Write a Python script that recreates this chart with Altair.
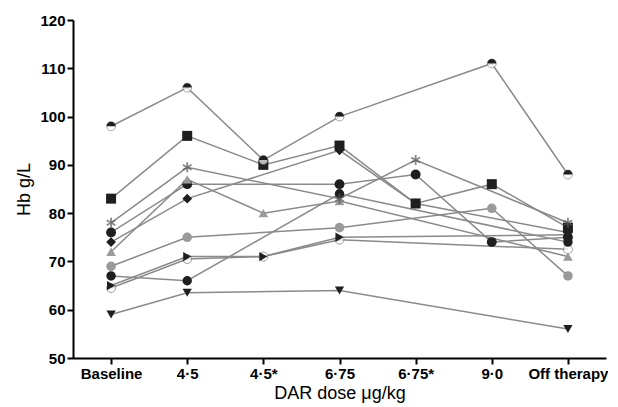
import altair as alt
import pandas as pd

doses = ["Baseline", "4·5", "4·5*", "6·75", "6·75*", "9·0", "Off therapy"]

# Hb values (g/L) per patient; None = not measured at that dose
s_halfcircle = [98, 106, 91, 100, None, 111, 88]
s_square = [83, 96, 90, 94, 82, 86, 77]
s_star = [78, 89.5, None, 83, 91, None, 78]
s_circle_a = [76, 86, None, 86, 88, 74, 75]
s_diamond = [74, 83, None, 93, 82, None, 76]
s_tri_up = [72, 87, 80, 82.5, None, None, 71]
s_grey_circle = [69, 75, None, 77, None, 81, 67]
s_circle_b = [67, 66, None, 84, None, None, 74]
s_tri_right = [65, 71, 71, 75, None, None, 75.5]
s_open_circle = [64.5, 70.5, 71, 74.5, None, None, 72.5]
s_tri_down = [59, 63.5, None, 64, None, None, 56]

series = {
    "open_circle": s_open_circle,
    "halfcircle": s_halfcircle,
    "square": s_square,
    "star": s_star,
    "circle_a": s_circle_a,
    "diamond": s_diamond,
    "tri_up": s_tri_up,
    "grey_circle": s_grey_circle,
    "circle_b": s_circle_b,
    "tri_right": s_tri_right,
    "tri_down": s_tri_down,
}

rows = []
for name, vals in series.items():
    for i, (d, v) in enumerate(zip(doses, vals)):
        if v is not None:
            rows.append({"series": name, "dose": d, "idx": i, "hb": v})
df = pd.DataFrame(rows)

FONT = "Liberation Sans"
DARK = "#1f1f1f"
GREY = "#9a9a9a"

x = alt.X(
    "dose:N",
    sort=doses,
    scale=alt.Scale(type="point", padding=0.5),
    axis=alt.Axis(labelAngle=0, title="DAR dose μg/kg", titlePadding=3),
)
y = alt.Y(
    "hb:Q",
    scale=alt.Scale(domain=[50, 120], nice=False, zero=False),
    axis=alt.Axis(values=list(range(50, 121, 10)), title="Hb g/L", titlePadding=6),
)

lines = alt.Chart(df).mark_line(color="#8a8a8a", strokeWidth=1.5).encode(
    x=x, y=y, detail="series:N", order="idx:Q"
)

filled_names = ["square", "circle_a", "diamond", "tri_up", "grey_circle",
                "circle_b", "tri_right", "tri_down"]
filled_shapes = ["square", "circle", "diamond", "triangle-up", "circle",
                 "circle", "triangle-right", "triangle-down"]
filled_colors = [DARK, DARK, DARK, GREY, GREY, DARK, DARK, DARK]
filled_sizes = [100, 85, 130, 80, 85, 85, 80, 80]

open_pts = alt.Chart(df).transform_filter(
    alt.datum.series == "open_circle"
).mark_point(shape="circle", filled=True, fill="white", stroke="#777777",
             strokeWidth=1, size=80).encode(x=x, y=y)

filled_pts = alt.Chart(df).transform_filter(
    alt.FieldOneOfPredicate(field="series", oneOf=filled_names)
).mark_point(filled=True, opacity=1).encode(
    x=x,
    y=y,
    shape=alt.Shape("series:N", scale=alt.Scale(domain=filled_names, range=filled_shapes), legend=None),
    color=alt.Color("series:N", scale=alt.Scale(domain=filled_names, range=filled_colors), legend=None),
    size=alt.Size("series:N", scale=alt.Scale(domain=filled_names, range=filled_sizes), legend=None),
)

star_pts = alt.Chart(df).transform_filter(
    alt.datum.series == "star"
).mark_point(
    shape="M0,-1L0,1M-0.87,-0.5L0.87,0.5M-0.87,0.5L0.87,-0.5",
    filled=False, stroke="#555555", strokeWidth=1.8, size=100,
).encode(x=x, y=y)

half_base = alt.Chart(df).transform_filter(
    alt.datum.series == "halfcircle"
).mark_point(shape="circle", filled=True, fill="white", stroke="#666666",
             strokeWidth=0.8, size=80).encode(x=x, y=y)
half_top = alt.Chart(df).transform_filter(
    alt.datum.series == "halfcircle"
).mark_point(shape="M-1,0A1,1,0,0,1,1,0Z", filled=True, color=DARK,
             size=80, opacity=1).encode(x=x, y=y)

chart = alt.layer(lines, open_pts, filled_pts, star_pts, half_base, half_top).properties(
    width=533,
    height=338,
    autosize=alt.AutoSizeParams(type="none"),
    padding={"left": 65, "top": 12, "right": 2, "bottom": 49},
).configure_view(stroke=None).configure_axis(
    grid=False,
    domainColor="black",
    domainWidth=2,
    tickColor="black",
    tickWidth=2,
    tickSize=6,
    labelFont=FONT,
    labelFontSize=15,
    labelFontWeight="bold",
    labelColor="black",
    labelPadding=2,
    titleFont=FONT,
    titleFontSize=18,
    titleFontWeight="normal",
    titleColor="black",
)

chart.save("out.html", embed_options={"renderer": "svg", "actions": False})
